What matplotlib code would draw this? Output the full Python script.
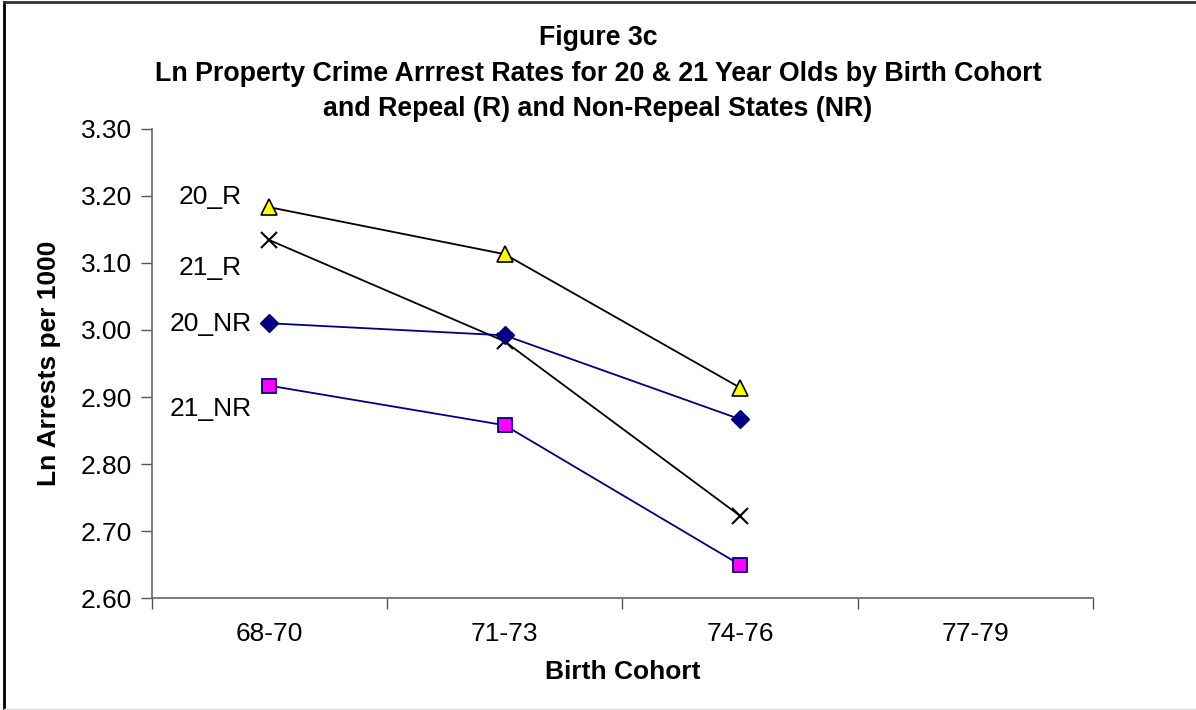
import matplotlib
matplotlib.use("Agg")
import matplotlib.pyplot as plt
from matplotlib.lines import Line2D
import numpy as np

plt.rcParams['font.family'] = ['Liberation Sans', 'DejaVu Sans']

cohorts = ["68-70", "71-73", "74-76", "77-79"]
r20 = [3.183, 3.113, 2.914]
r21 = [3.134, 2.983, 2.723]
nr20 = [3.010, 2.992, 2.867]
nr21 = [2.917, 2.858, 2.650]

series_names = ["20_R", "21_R", "20_NR", "21_NR"]
name_y = [3.198, 3.093, 3.009, 2.882]
yticks = [2.60, 2.70, 2.80, 2.90, 3.00, 3.10, 3.20, 3.30]
title_lines = ["Figure 3c",
               "Ln Property Crime Arrrest Rates for 20 & 21 Year Olds by Birth Cohort",
               "and Repeal (R) and Non-Repeal States (NR)"]


def main():
    fig = plt.figure(figsize=(11.96, 7.10), dpi=100)
    ax = fig.add_axes([0.1268, 0.1573, 0.9139 - 0.1268, 0.8187 - 0.1573])

    x = np.arange(3)
    ax.plot(x, r20, color="black", lw=1.3, marker="^", ms=11,
            mfc="#ffff00", mec="black", mew=1.2)
    ax.plot(x, r21, color="black", lw=1.3, marker="x", ms=12,
            mec="black", mew=1.5)
    ax.plot(x, nr20, color="#000080", lw=1.3, marker="D", ms=9,
            mfc="#000080", mec="#000080")
    ax.plot(x, nr21, color="#000080", lw=1.3, marker="s", ms=10,
            mfc="#ff00ff", mec="#000080", mew=1.3)

    for name, yy in zip(series_names, name_y):
        ax.text(-0.25, yy, name, ha="center", va="center", fontsize=19)

    ax.set_xlim(-0.5, 3.5)
    ax.set_ylim(2.60, 3.30)
    ax.set_yticks(yticks)
    ax.set_yticklabels(["%.2f" % v for v in yticks], fontsize=19)
    ax.set_xticks(np.arange(len(cohorts)))
    ax.set_xticklabels(cohorts, fontsize=19)
    ax.set_xticks(np.arange(-0.5, 3.6, 1.0), minor=True)
    ax.tick_params(axis="x", which="major", length=0, pad=17)
    ax.tick_params(axis="x", which="minor", length=8, width=1, color="#555555")
    ax.tick_params(axis="y", length=8, width=1, color="#555555", pad=6)

    for s in ["top", "right"]:
        ax.spines[s].set_visible(False)
    for s in ["left", "bottom"]:
        ax.spines[s].set_color("#666666")
        ax.spines[s].set_linewidth(1.2)

    ax.set_xlabel("Birth Cohort", fontsize=19, fontweight="bold", labelpad=10)
    ax.set_ylabel("Ln Arrests per 1000", fontsize=19, fontweight="bold", labelpad=14)

    # title, one line at a time (baselines)
    for line, base in zip(title_lines, [45, 81, 116]):
        fig.text(0.5, 1 - base / 710, line, ha="center", va="baseline",
                 fontsize=19.3, fontweight="bold")

    # figure frame
    fig.add_artist(Line2D([0.003, 0.003], [0.0, 0.997], transform=fig.transFigure,
                          color="black", lw=2))
    fig.add_artist(Line2D([0.003, 1.0], [0.997, 0.997], transform=fig.transFigure,
                          color="#333333", lw=2))
    fig.add_artist(Line2D([0.003, 1.0], [0.001, 0.001], transform=fig.transFigure,
                          color="#dddddd", lw=1))

    fig.savefig("out.png", dpi=100)


if __name__ == "__main__":
    main()
